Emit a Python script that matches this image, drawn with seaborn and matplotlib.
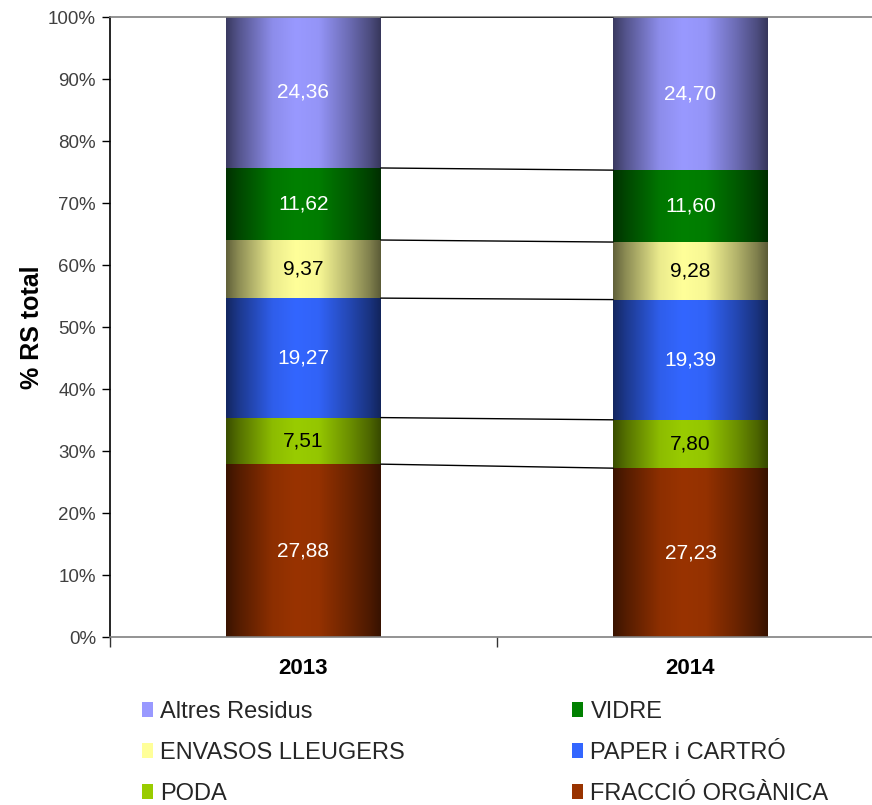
import numpy as np
import pandas as pd
import matplotlib
matplotlib.use("Agg")
import matplotlib.pyplot as plt
import seaborn as sns
from matplotlib.patches import Patch

# ---------------- data ----------------
years = ["2013", "2014"]
series = ["FRACCIÓ ORGÀNICA", "PODA", "PAPER i CARTRÓ",
          "ENVASOS LLEUGERS", "VIDRE", "Altres Residus"]
fraccio = [27.88, 27.23]
poda = [7.51, 7.80]
paper = [19.27, 19.39]
envasos = [9.37, 9.28]
vidre = [11.62, 11.60]
altres = [24.36, 24.70]
values = [fraccio, poda, paper, envasos, vidre, altres]
colors = ["#993300", "#99cc00", "#3366ff", "#ffff99", "#008000", "#9999ff"]
label_colors = ["white", "black", "white", "black", "white", "white"]
yticks = list(range(0, 101, 10))
legend_col1 = ["Altres Residus", "ENVASOS LLEUGERS", "PODA"]
legend_col2 = ["VIDRE", "PAPER i CARTRÓ", "FRACCIÓ ORGÀNICA"]

# ---------------- style ----------------
sns.set_theme(style="white")
plt.rcParams["font.family"] = ["Liberation Sans", "DejaVu Sans"]

fig = plt.figure(figsize=(8.72, 8.05), dpi=100)
ax = fig.add_axes([110 / 872, 168 / 805, 1 - 110 / 872, 620 / 805])

W = 0.4
bottom = np.zeros(len(years))
for name, vals, col in zip(series, values, colors):
    sns.barplot(x=years, y=vals, bottom=bottom.copy(), color=col, width=W,
                saturation=1, linewidth=0, edgecolor="none", ax=ax)
    bottom = bottom + np.array(vals)

# gradient (cylinder-like shading) over each bar segment
t_pts = [0.0, 0.08, 0.3, 0.45, 0.6, 0.8, 0.93, 1.0]
f_pts = [0.38, 0.55, 0.92, 1.0, 0.97, 0.7, 0.5, 0.36]
tt = np.linspace(0, 1, 200)
prof = np.interp(tt, t_pts, f_pts)
for p in list(ax.patches):
    x0, y0 = p.get_x(), p.get_y()
    w, h = p.get_width(), p.get_height()
    rgb = np.array(p.get_facecolor()[:3])
    img = (prof[:, None] * rgb[None, :])[None, :, :]
    ax.imshow(img, extent=[x0, x0 + w, y0, y0 + h], aspect="auto",
              interpolation="bilinear", zorder=2)
    p.set_alpha(0)

# segment labels
cum = np.zeros(len(years))
for vals, lc in zip(values, label_colors):
    for i, v in enumerate(vals):
        ax.text(i, cum[i] + v / 2, f"{v:.2f}".replace(".", ","),
                ha="center", va="center", color=lc, fontsize=15, zorder=5)
    cum = cum + np.array(vals)

# series lines between bars
cum = np.zeros(len(years))
for vals in values:
    cum = cum + np.array(vals)
    ax.plot([0 + W / 2, 1 - W / 2], [cum[0], cum[1]], color="black", lw=1, zorder=3)

ax.set_yticks(yticks)
ax.set_yticklabels([f"{t}%" for t in yticks], fontsize=13.5, color="#404040")
ax.tick_params(axis="y", which="major", length=6, width=1, color="black",
               left=True, direction="out", pad=4)
ax.set_xticks(range(len(years)))
ax.set_xticklabels(years, fontsize=16, fontweight="bold", color="black")
ax.set_xticks([-0.5, 0.5], minor=True)
ax.tick_params(axis="x", which="major", length=0, pad=15)
ax.tick_params(axis="x", which="minor", length=7, width=1, color="#333333",
               bottom=True, direction="out")
ax.set_xlim(-0.5, 1.469)
ax.set_ylim(0, 100)
ax.set_xlabel("")
ax.set_ylabel("% RS total", fontsize=18, fontweight="bold", color="black")
ax.yaxis.set_label_coords(-0.086, 0.5)

ax.spines["left"].set_color("black")
ax.spines["left"].set_linewidth(1.2)
ax.spines["bottom"].set_color("#808080")
ax.spines["bottom"].set_linewidth(1.2)
ax.spines["top"].set_color("#808080")
ax.spines["top"].set_linewidth(1.2)
ax.spines["right"].set_visible(False)

cmap = dict(zip(series, colors))
leg_kw = dict(loc="upper left", frameon=False, fontsize=17, handlelength=0.46,
              handleheight=0.62, handletextpad=0.32, labelspacing=0.8,
              borderpad=0, borderaxespad=0)
h1 = [Patch(facecolor=cmap[n], edgecolor="none", label=n) for n in legend_col1]
h2 = [Patch(facecolor=cmap[n], edgecolor="none", label=n) for n in legend_col2]
fig.legend(handles=h1, bbox_to_anchor=(142 / 872, 0.1295), **leg_kw)
fig.legend(handles=h2, bbox_to_anchor=(572 / 872, 0.1295), **leg_kw)

fig.savefig("out.png", dpi=100)
